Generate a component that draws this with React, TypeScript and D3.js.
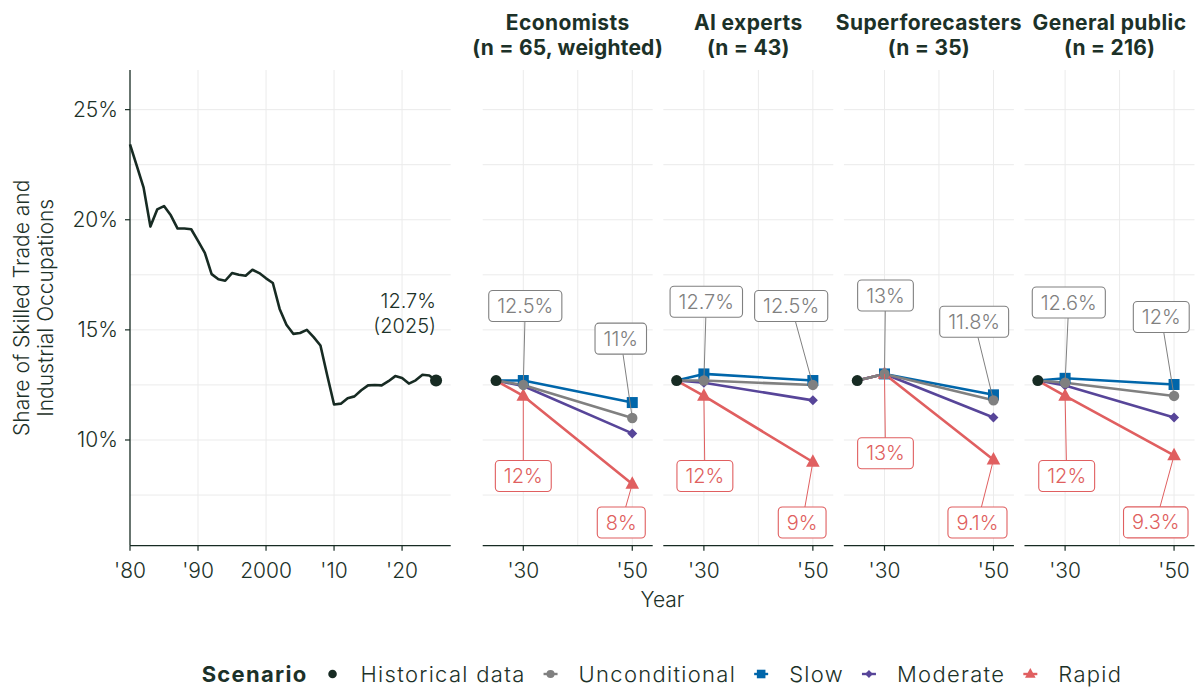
import React from "react";
import * as d3 from "d3";

// ---------- DATA ----------
const histYears = [
  1980, 1981, 1982, 1983, 1984, 1985, 1986, 1987, 1988, 1989,
  1990, 1991, 1992, 1993, 1994, 1995, 1996, 1997, 1998, 1999,
  2000, 2001, 2002, 2003, 2004, 2005, 2006, 2007, 2008, 2009,
  2010, 2011, 2012, 2013, 2014, 2015, 2016, 2017, 2018, 2019,
  2020, 2021, 2022, 2023, 2024, 2025,
];
const histValues = [
  23.42, 22.45, 21.46, 19.69, 20.47, 20.62, 20.2, 19.6, 19.6, 19.57,
  19.04, 18.5, 17.53, 17.3, 17.23, 17.58, 17.5, 17.46, 17.73, 17.58,
  17.34, 17.13, 15.95, 15.23, 14.82, 14.86, 15.0, 14.67, 14.29, 12.93,
  11.61, 11.65, 11.9, 11.98, 12.26, 12.48, 12.5, 12.48, 12.67, 12.9,
  12.81, 12.56, 12.71, 12.96, 12.93, 12.7,
];

const groupNames = ["Economists", "AI experts", "Superforecasters", "General public"];
const groupSizes = ["(n = 65, weighted)", "(n = 43)", "(n = 35)", "(n = 216)"];
const forecastYears = [2025, 2030, 2050];

const unconditional = [
  [12.7, 12.5, 11.0],
  [12.7, 12.7, 12.5],
  [12.7, 13.0, 11.8],
  [12.7, 12.6, 12.0],
];
const slow = [
  [12.7, 12.7, 11.7],
  [12.7, 13.0, 12.7],
  [12.7, 13.0, 12.05],
  [12.7, 12.8, 12.52],
];
const moderate = [
  [12.7, 12.45, 10.3],
  [12.7, 12.6, 11.8],
  [12.7, 13.0, 11.02],
  [12.7, 12.47, 11.02],
];
const rapid = [
  [12.7, 12.0, 8.0],
  [12.7, 12.0, 9.0],
  [12.7, 13.0, 9.1],
  [12.7, 12.0, 9.3],
];

const yTicks = [10, 15, 20, 25];
const yMinor = [7.5, 12.5, 17.5, 22.5];
const histTicks = [1980, 1990, 2000, 2010, 2020];
const histTickLabels = ["'80", "'90", "2000", "'10", "'20"];
const foreTicks = [2030, 2050];
const foreTickLabels = ["'30", "'50"];
const foreGrid = [2030, 2040, 2050];

const legendLabels = ["Historical data", "Unconditional", "Slow", "Moderate", "Rapid"];

// label placement offsets (pixels from the point) – layout only
// order per panel: uncond 2030, uncond 2050, rapid 2030, rapid 2050
const labelOffsets = [
  [[2, -79], [-11.5, -79.3], [0, 80], [-11, 38.5]],
  [[2.4, -78.8], [-21.7, -79], [1, 80], [-10.7, 60.5]],
  [[1, -78.4], [-19.3, -78.6], [1, 79.4], [-16, 62.7]],
  [[3.7, -80.2], [-12.8, -79], [1.6, 80], [-18.3, 67]],
];

// ---------- STYLE ----------
const FONT = "Inter, 'Noto Sans', sans-serif";
const REG = 300;
const TEXT = "#1c3128";
const DARK = "#172b23";
const GRAY = "#808080";
const BLUE = "#0066aa";
const PURPLE = "#574599";
const RED = "#e05f60";
const GRID = "#ebebeb";

const W = 1196;
const H = 692;
const top = 70;
const bottom = 545.7;
const histLeft = 130;
const histRight = 450.7;
const panelLeft0 = 482.7;
const panelStep = 180.6;
const panelW = 170;

const y = d3.scaleLinear().domain([5.2, 26.8]).range([bottom, top]);
const xHist = d3.scaleLinear().domain([1980, 2027.15]).range([histLeft, histRight]);

const fmt = (v: number) => `${+v.toFixed(1)}%`;

function measure(text: string, weight: number, size: number, ls = 0) {
  try {
    const c = document.createElement("canvas").getContext("2d");
    if (c) {
      c.font = `${weight} ${size}px ${FONT}`;
      return c.measureText(text).width + ls * text.length;
    }
  } catch (e) {}
  return text.length * (size * 0.52 + ls);
}

type Series = { key: string; color: string; values: number[][]; shape: string };
const seriesList: Series[] = [
  { key: "slow", color: BLUE, values: slow, shape: "square" },
  { key: "moderate", color: PURPLE, values: moderate, shape: "diamond" },
  { key: "rapid", color: RED, values: rapid, shape: "triangle" },
  { key: "uncond", color: GRAY, values: unconditional, shape: "circle" },
];

function Marker({ shape, x, y: yy, color, scale = 1 }: any) {
  if (shape === "circle") return <circle cx={x} cy={yy} r={5.2 * scale} fill={color} />;
  if (shape === "dot") return <circle cx={x} cy={yy} r={5.5 * scale} fill={color} />;
  if (shape === "square") {
    const s = 11 * scale;
    return <rect x={x - s / 2} y={yy - s / 2} width={s} height={s} fill={color} />;
  }
  if (shape === "diamond") {
    const s = 5 * scale;
    return <path d={`M${x},${yy - s}L${x + s},${yy}L${x},${yy + s}L${x - s},${yy}Z`} fill={color} />;
  }
  if (shape === "triangle") {
    const w = 6.8 * scale;
    const h = 12.5 * scale;
    return <path d={`M${x},${yy - h * 0.62}L${x + w},${yy + h * 0.38}L${x - w},${yy + h * 0.38}Z`} fill={color} />;
  }
  return null;
}

function Label({ px, py, dx, dy, text, color }: any) {
  const fs = 20;
  const tw = measure(text, REG, fs);
  const bw = tw + 17;
  const bh = 31;
  const cx = px + dx;
  const cy = py + dy;
  const vx = px - cx;
  const vy = py - cy;
  let t = Infinity;
  if (vx !== 0) t = Math.min(t, (bw / 2) / Math.abs(vx));
  if (vy !== 0) t = Math.min(t, (bh / 2) / Math.abs(vy));
  const ex = cx + vx * t;
  const ey = cy + vy * t;
  return (
    <g>
      <line x1={ex} y1={ey} x2={px} y2={py} stroke={color} strokeWidth={1} />
      <rect x={cx - bw / 2} y={cy - bh / 2} width={bw} height={bh} rx={4} fill="#fff" stroke={color} strokeWidth={1.1} />
      <text x={cx} y={cy + 7} textAnchor="middle" fontSize={fs} fontWeight={REG} fill={color} fontFamily={FONT}>
        {text}
      </text>
    </g>
  );
}

function ForecastPanel({ i }: { i: number }) {
  const left = panelLeft0 + i * panelStep;
  const x = d3.scaleLinear().domain([2022.55, 2053.75]).range([left, left + panelW]);
  const line = d3
    .line<number>()
    .x((_, j) => x(forecastYears[j]))
    .y((d) => y(d));
  const labels = [
    { v: unconditional[i][1], yr: 2030, color: GRAY, off: labelOffsets[i][0] },
    { v: unconditional[i][2], yr: 2050, color: GRAY, off: labelOffsets[i][1] },
    { v: rapid[i][1], yr: 2030, color: RED, off: labelOffsets[i][2] },
    { v: rapid[i][2], yr: 2050, color: RED, off: labelOffsets[i][3] },
  ];
  const cx = left + panelW / 2;
  return (
    <g>
      {[...yTicks, ...yMinor].map((t) => (
        <line key={"h" + t} x1={left} x2={left + panelW} y1={y(t)} y2={y(t)} stroke={GRID} strokeWidth={1} />
      ))}
      {foreGrid.map((t) => (
        <line key={"v" + t} x1={x(t)} x2={x(t)} y1={top} y2={bottom} stroke={GRID} strokeWidth={1} />
      ))}
      <line x1={left} x2={left + panelW} y1={bottom} y2={bottom} stroke={DARK} strokeWidth={1.3} />
      {foreTicks.map((t, j) => (
        <g key={"t" + t}>
          <line x1={x(t)} x2={x(t)} y1={bottom} y2={bottom + 5} stroke={DARK} strokeWidth={1.2} />
          <text x={x(t)} y={bottom + 32} textAnchor="middle" fontSize={21} fontWeight={REG} fill={TEXT} fontFamily={FONT}>
            {foreTickLabels[j]}
          </text>
        </g>
      ))}
      <text x={cx} y={30} textAnchor="middle" fontSize={21} fontWeight={700} letterSpacing={0.4} fill={TEXT} fontFamily={FONT}>
        {groupNames[i]}
      </text>
      <text x={cx} y={55} textAnchor="middle" fontSize={21} fontWeight={700} letterSpacing={0.2} fill={TEXT} fontFamily={FONT}>
        {groupSizes[i]}
      </text>
      {seriesList.map((s) => (
        <path key={"l" + s.key} d={line(s.values[i]) || ""} fill="none" stroke={s.color} strokeWidth={2.6} strokeLinejoin="round" />
      ))}
      {seriesList.map((s) =>
        s.values[i].slice(1).map((v, j) => (
          <Marker key={s.key + j} shape={s.shape} x={x(forecastYears[j + 1])} y={y(v)} color={s.color} />
        ))
      )}
      <Marker shape="dot" x={x(forecastYears[0])} y={y(histValues[histValues.length - 1])} color={DARK} />
      {labels.map((l, j) => (
        <Label key={"lab" + j} px={x(l.yr)} py={y(l.v)} dx={l.off[0]} dy={l.off[1]} text={fmt(l.v)} color={l.color} />
      ))}
    </g>
  );
}

function Legend() {
  const fs = 22;
  const ls = 1.3;
  const title = "Scenario";
  const wTitle = measure(title, 700, fs, ls);
  const widths = legendLabels.map((t) => measure(t, REG, fs, ls));
  const titleToKey = 25;
  const keyToText = 28;
  const textToKey = 25;
  const total =
    wTitle + titleToKey + widths.reduce((a, b) => a + b, 0) + legendLabels.length * keyToText + (legendLabels.length - 1) * textToKey;
  let cur = 662 - total / 2;
  const yy = 681.5;
  const items: any[] = [];
  items.push(
    <text key="title" x={cur} y={yy} fontSize={fs} fontWeight={700} letterSpacing={ls} fill={TEXT} fontFamily={FONT}>
      {title}
    </text>
  );
  cur += wTitle;
  const shapes = ["dot", "circle", "square", "diamond", "triangle"];
  const colors = [DARK, GRAY, BLUE, PURPLE, RED];
  legendLabels.forEach((lab, i) => {
    const kx = cur + (i === 0 ? titleToKey : textToKey);
    const ky = yy - 7.5;
    items.push(
      <g key={"k" + i}>
        {i > 0 && <line x1={kx - 7} x2={kx + 7} y1={ky} y2={ky} stroke={colors[i]} strokeWidth={2.4} />}
        <Marker shape={shapes[i]} x={kx} y={ky} color={colors[i]} scale={0.78} />
        <text x={kx + keyToText} y={yy} fontSize={fs} fontWeight={REG} letterSpacing={ls} fill={TEXT} fontFamily={FONT}>
          {lab}
        </text>
      </g>
    );
    cur = kx + keyToText + widths[i];
  });
  return <g>{items}</g>;
}

export default function App() {
  const histLine = d3
    .line<number>()
    .x((_, j) => xHist(histYears[j]))
    .y((d) => y(d));
  const lastX = xHist(histYears[histYears.length - 1]);
  const lastY = y(histValues[histValues.length - 1]);
  return (
    <svg width={W} height={H} style={{ position: "absolute", left: 0, top: 0, background: "#fff" }}>
      <rect width={W} height={H} fill="#fff" />
      {[...yTicks, ...yMinor].map((t) => (
        <line key={"hh" + t} x1={histLeft} x2={histRight} y1={y(t)} y2={y(t)} stroke={GRID} strokeWidth={1} />
      ))}
      {histTicks.slice(1).map((t) => (
        <line key={"hv" + t} x1={xHist(t)} x2={xHist(t)} y1={top} y2={bottom} stroke={GRID} strokeWidth={1} />
      ))}
      <line x1={histLeft} x2={histLeft} y1={top} y2={bottom} stroke={DARK} strokeWidth={1.3} />
      <line x1={histLeft} x2={histRight} y1={bottom} y2={bottom} stroke={DARK} strokeWidth={1.3} />
      {yTicks.map((t) => (
        <g key={"yt" + t}>
          <line x1={histLeft - 5} x2={histLeft} y1={y(t)} y2={y(t)} stroke={DARK} strokeWidth={1.2} />
          <text x={histLeft - 12} y={y(t) + 7.5} textAnchor="end" fontSize={21} fontWeight={REG} fill={TEXT} fontFamily={FONT}>
            {t}%
          </text>
        </g>
      ))}
      {histTicks.map((t, j) => (
        <g key={"xt" + t}>
          <line x1={xHist(t)} x2={xHist(t)} y1={bottom} y2={bottom + 5} stroke={DARK} strokeWidth={1.2} />
          <text x={xHist(t)} y={bottom + 32} textAnchor="middle" fontSize={21} fontWeight={REG} fill={TEXT} fontFamily={FONT}>
            {histTickLabels[j]}
          </text>
        </g>
      ))}
      <path d={histLine(histValues) || ""} fill="none" stroke={DARK} strokeWidth={2.6} strokeLinejoin="round" />
      <Marker shape="dot" x={lastX} y={lastY} color={DARK} scale={1.1} />
      <text x={lastX} y={308} textAnchor="end" fontSize={20} fontWeight={REG} fill={TEXT} fontFamily={FONT}>
        {fmt(histValues[histValues.length - 1])}
      </text>
      <text x={lastX} y={333} textAnchor="end" fontSize={20} fontWeight={REG} fill={TEXT} fontFamily={FONT}>
        ({histYears[histYears.length - 1]})
      </text>
      <g transform={`translate(0, ${(top + bottom) / 2}) rotate(-90)`}>
        <text x={0} y={29} textAnchor="middle" fontSize={21} fontWeight={REG} fill={TEXT} fontFamily={FONT}>
          Share of Skilled Trade and
        </text>
        <text x={0} y={53} textAnchor="middle" fontSize={21} fontWeight={REG} fill={TEXT} fontFamily={FONT}>
          Industrial Occupations
        </text>
      </g>
      {groupNames.map((_, i) => (
        <ForecastPanel key={i} i={i} />
      ))}
      <text x={662.5} y={607} textAnchor="middle" fontSize={21} fontWeight={REG} fill={TEXT} fontFamily={FONT}>
        Year
      </text>
      <Legend />
    </svg>
  );
}
